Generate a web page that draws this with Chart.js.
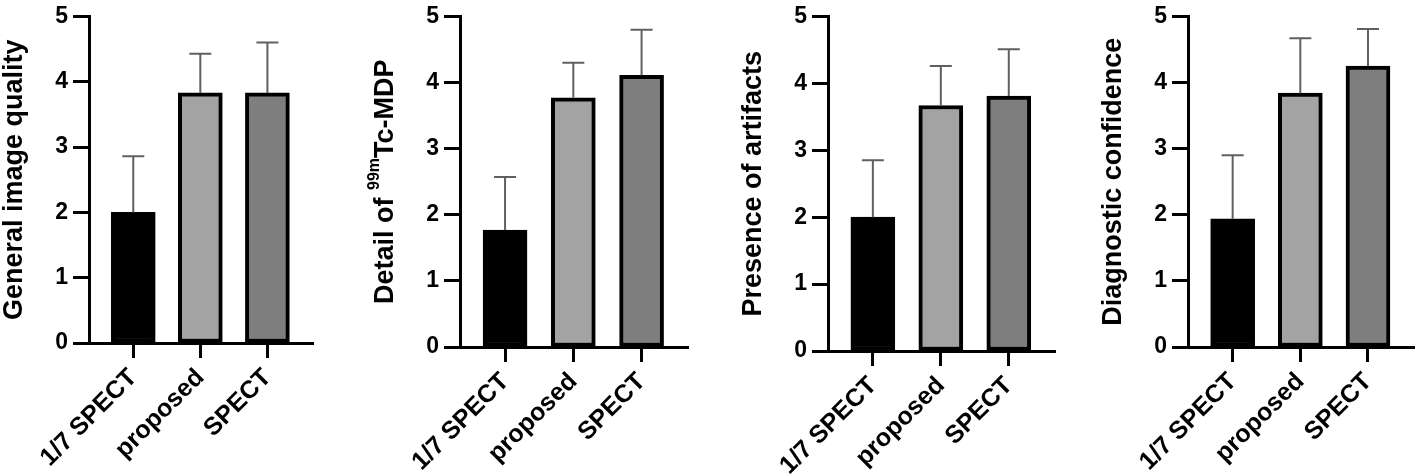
<!DOCTYPE html>
<html>
<head>
<meta charset="utf-8">
<script src="https://cdn.jsdelivr.net/npm/chart.js@4.4.1/dist/chart.umd.min.js"></script>
<style>
  html, body { margin: 0; padding: 0; background: #fff; }
  body { width: 1416px; height: 474px; position: relative; overflow: hidden; }
  .panel { position: absolute; top: 0; height: 474px; }
</style>
</head>
<body>
<div class="panel" id="p1" style="left:0px;width:354px"><canvas id="c1"></canvas></div>
<div class="panel" id="p2" style="left:354px;width:366px"><canvas id="c2"></canvas></div>
<div class="panel" id="p3" style="left:720px;width:342px"><canvas id="c3"></canvas></div>
<div class="panel" id="p4" style="left:1062px;width:354px"><canvas id="c4"></canvas></div>
<script>
// Groups shown on every panel
const categories = ['1/7 SPECT', 'proposed', 'SPECT'];
const yTicks = [0, 1, 2, 3, 4, 5];

// Mean score and SD per group
const qualityMean = [2.00, 3.83, 3.83];
const qualitySd = [0.86, 0.60, 0.77];
const detailMean = [1.77, 3.77, 4.11];
const detailSd = [0.80, 0.53, 0.69];
const artifactMean = [2.00, 3.67, 3.81];
const artifactSd = [0.85, 0.59, 0.70];
const confidenceMean = [1.94, 3.84, 4.25];
const confidenceSd = [0.96, 0.83, 0.56];

const barColors = ['#000000', '#a3a3a3', '#7e7e7e'];
const FONT = '"Liberation Sans", Arial, sans-serif';

// Draws upper error bars (mean -> mean + SD) with a cap
const errorBarPlugin = {
    id: 'errorBars',
    afterDatasetsDraw(chart) {
        const ctx = chart.ctx;
        const yScale = chart.scales.y;
        const ds = chart.data.datasets[0];
        const meta = chart.getDatasetMeta(0);
        ctx.save();
        ctx.strokeStyle = '#606060';
        ctx.lineWidth = 2;
        meta.data.forEach((bar, i) => {
            const top = yScale.getPixelForValue(ds.data[i].y + ds.errors[i]);
            ctx.beginPath();
            ctx.moveTo(bar.x, bar.y);
            ctx.lineTo(bar.x, top);
            ctx.moveTo(bar.x - 11, top);
            ctx.lineTo(bar.x + 11, top);
            ctx.stroke();
        });
        ctx.restore();
    }
};

// Rotated y title, with optional superscript pieces
const yTitlePlugin = {
    id: 'yTitle',
    afterDraw(chart, args, opts) {
        const ctx = chart.ctx;
        const area = chart.chartArea;
        const parts = opts.parts || [];
        const mainFont = 'bold 27px ' + FONT;
        const supFont = 'bold 16px ' + FONT;
        ctx.save();
        ctx.translate(area.left - 74, (area.top + area.bottom) / 2);
        ctx.rotate(-Math.PI / 2);
        ctx.fillStyle = '#000';
        ctx.textBaseline = 'middle';
        ctx.textAlign = 'left';
        let total = 0;
        parts.forEach(p => {
            ctx.font = p.sup ? supFont : mainFont;
            total += ctx.measureText(p.text).width;
        });
        let x = -total / 2;
        parts.forEach(p => {
            ctx.font = p.sup ? supFont : mainFont;
            ctx.fillText(p.text, x, p.sup ? -11 : 0);
            x += ctx.measureText(p.text).width;
        });
        ctx.restore();
    }
};

const makePanel = (canvasId, means, sds, titleParts, geo) => {
    const points = means.map((m, i) => ({ x: i + 1, y: m }));
    return new Chart(document.getElementById(canvasId), {
        type: 'bar',
        data: {
            datasets: [{
                data: points,
                errors: sds,
                backgroundColor: barColors,
                borderColor: '#000',
                borderWidth: 4,
                borderSkipped: false,
                barThickness: 44
            }]
        },
        plugins: [errorBarPlugin, yTitlePlugin],
        options: {
            responsive: true,
            maintainAspectRatio: false,
            animation: false,
            layout: {
                padding: { left: geo.padLeft, top: geo.top, right: geo.padRight, bottom: 0 }
            },
            plugins: {
                legend: { display: false },
                tooltip: { enabled: false },
                yTitle: { parts: titleParts }
            },
            scales: {
                x: {
                    type: 'linear',
                    min: 0.34,
                    max: 3.68,
                    offset: false,
                    afterBuildTicks: (s) => { s.ticks = categories.map((c, i) => ({ value: i + 1 })); },
                    afterFit: (s) => { s.height = 474 - geo.bottom; },
                    border: { display: true, color: '#000', width: 3 },
                    grid: {
                        display: true,
                        drawOnChartArea: false,
                        drawTicks: true,
                        tickLength: 15,
                        tickWidth: 3,
                        tickColor: '#000',
                        offset: false
                    },
                    ticks: {
                        autoSkip: false,
                        minRotation: 45,
                        maxRotation: 45,
                        padding: 5,
                        color: '#000',
                        font: { family: FONT, size: 25, weight: 'bold' },
                        callback: (v) => categories[Math.round(v) - 1]
                    }
                },
                y: {
                    min: 0,
                    max: 5,
                    afterBuildTicks: (s) => { s.ticks = yTicks.map(v => ({ value: v })); },
                    afterFit: (s) => { s.width = 89; },
                    border: { display: true, color: '#000', width: 3 },
                    grid: {
                        display: true,
                        drawOnChartArea: false,
                        drawTicks: true,
                        tickLength: 16,
                        tickWidth: 3,
                        tickColor: '#000'
                    },
                    ticks: {
                        padding: 5,
                        color: '#000',
                        font: { family: FONT, size: 23, weight: 'bold', lineHeight: 1 }
                    },
                    title: { display: false }
                }
            }
        }
    });
};

makePanel('c1', qualityMean, qualitySd,
    [{ text: 'General image quality' }],
    { padLeft: 0, top: 11, bottom: 343, padRight: 354 - 313 });
makePanel('c2', detailMean, detailSd,
    [{ text: 'Detail of ' }, { text: '99m', sup: true }, { text: 'Tc-MDP' }],
    { padLeft: 460 - 89 - 354, top: 12, bottom: 347, padRight: 720 - 688 });
makePanel('c3', artifactMean, artifactSd,
    [{ text: 'Presence of artifacts' }],
    { padLeft: 828 - 89 - 720, top: 16, bottom: 351, padRight: 1062 - 1055 });
makePanel('c4', confidenceMean, confidenceSd,
    [{ text: 'Diagnostic confidence' }],
    { padLeft: 1188 - 89 - 1062, top: 14, bottom: 347, padRight: 1416 - 1414 });
</script>
</body>
</html>
